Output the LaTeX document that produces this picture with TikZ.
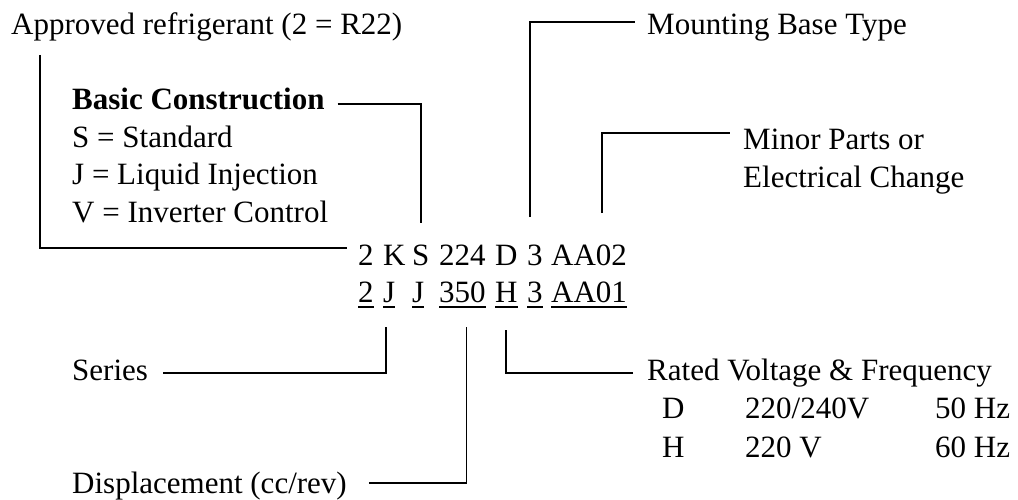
\documentclass[tikz,border=0pt]{standalone}
\usepackage{fontspec}
\setmainfont{Liberation Serif}
\newcommand{\ulcode}[1]{\setbox0\hbox{#1}\rlap{\rule[-5.5pt]{\wd0}{1.6pt}}\box0}

\begin{document}
\begin{tikzpicture}[x=1pt, y=-1pt,
    lbl/.style={anchor=base west, inner sep=0pt, font=\fontsize{31}{37.5}\selectfont},
    lead/.style={line width=1.9pt}]
    \useasboundingbox (0,0) rectangle (1018,500);

    % 1. Model numbers (second one underlined)
    \foreach \x/\t/\n in {358/2/a, 383/K/b, 412/S/c, 439/224/d, 495/D/e, 527/3/f, 551/AA02/g}
        \node[lbl] (r1\n) at (\x,265) {\t};
    \foreach \x/\t/\n in {358/2/a, 383/J/b, 412/J/c, 439/350/d, 495/H/e, 527/3/f, 551/AA01/g}
        \node[lbl] (r2\n) at (\x,302) {\ulcode{\t}};

    % 2. Labels above
    \node[lbl] (approved) at (11,35) {Approved refrigerant (2 = R22)};
    \node[lbl] (basic) at (72,110) {\bfseries Basic Construction};
    \node[lbl] (cons1) at (72,147.5) {S = Standard};
    \node[lbl] (cons2) at (72,185) {J = Liquid Injection};
    \node[lbl] (cons3) at (72,222.5) {V = Inverter Control};
    \node[lbl] (mount) at (647,35) {Mounting Base Type};
    \node[lbl] (minor) at (743,150) {Minor Parts or};
    \node[lbl] (minor2) at (743,188) {Electrical Change};

    % 3. Labels below
    \node[lbl] (series) at (72,380) {Series};
    \node[lbl] (disp) at (72,493) {Displacement (cc/rev)};
    \node[lbl] (rated) at (647,380) {Rated Voltage \& Frequency};
    \node[lbl] (tabD) at (662,418) {D};
    \node[lbl] (tabDv) at (745,418) {220/240V};
    \node[lbl] (tabDf) at (935,418) {50 Hz};
    \node[lbl] (tabH) at (662,457) {H};
    \node[lbl] (tabHv) at (745,457) {220 V};
    \node[lbl] (tabHf) at (935,457) {60 Hz};

    % 4. Leaders
    \draw[lead] ([xshift=29pt,yshift=-20pt]approved.base west) |- ([xshift=-11pt,yshift=17pt]r1a.base west);
    \draw[lead] ([xshift=13pt,yshift=6pt]basic.base east) -| ([yshift=42pt]r1c.base);
    \draw[lead] ([xshift=-5pt,yshift=48pt]r1f.base) |- ([xshift=-12pt,yshift=13pt]mount.base west);
    \draw[lead] ([xshift=13pt,yshift=52pt]r1g.base) |- ([xshift=-13pt,yshift=17pt]minor.base west);
    \draw[lead] ([xshift=15pt,yshift=7pt]series.base east) -| ([xshift=-3pt,yshift=-25pt]r2b.base);
    \draw[lead] ([xshift=22pt,yshift=10pt]disp.base east) -| ([xshift=4pt,yshift=-25pt]r2d.base);
    \draw[lead] ([xshift=-14pt,yshift=7pt]rated.base west) -| ([yshift=-28pt]r2e.base);
\end{tikzpicture}
\end{document}
